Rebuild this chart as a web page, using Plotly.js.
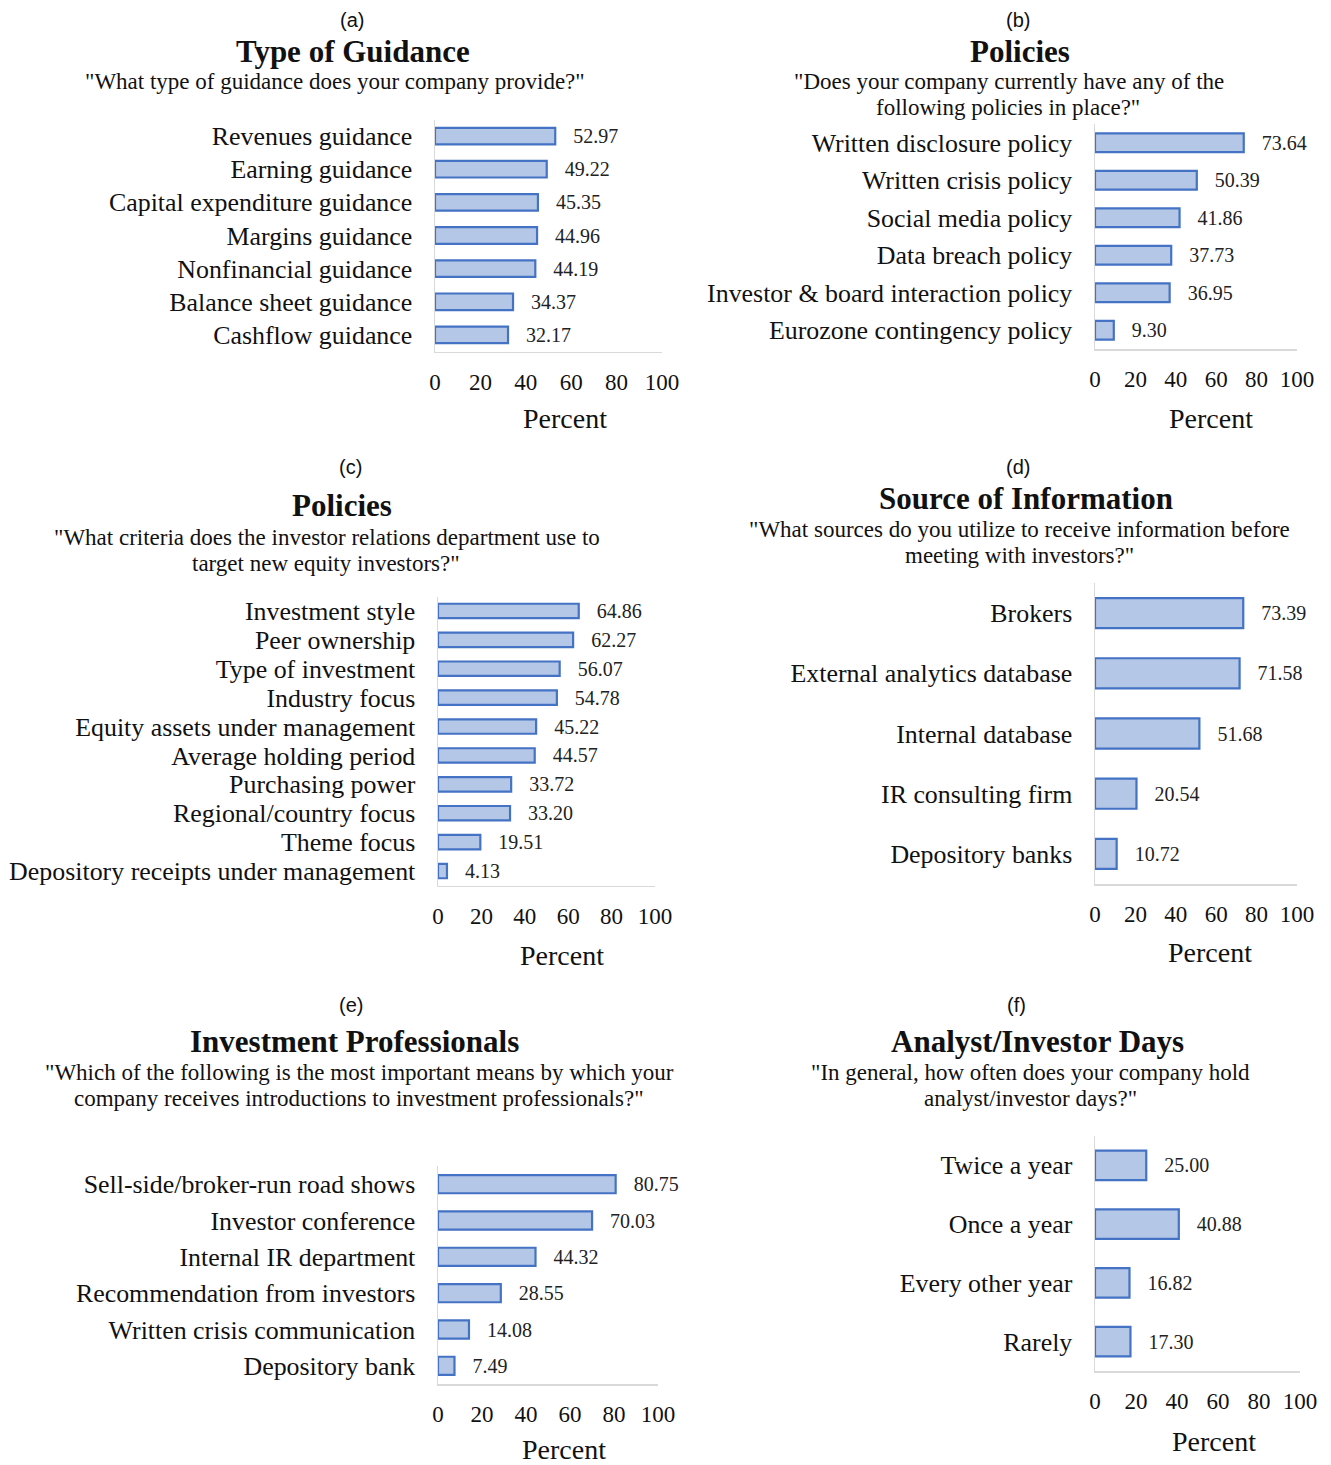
<!DOCTYPE html>
<html><head><meta charset="utf-8">
<script src="https://cdn.plot.ly/plotly-3.0.1.min.js"></script>
<style>html,body{margin:0;padding:0;background:#fff}#chart{width:1331px;height:1465px}</style>
</head><body><div id="chart"></div><script>
const W = 1331, H = 1465;

// ---- data ----
const guidanceLabels = ["Revenues guidance","Earning guidance","Capital expenditure guidance","Margins guidance","Nonfinancial guidance","Balance sheet guidance","Cashflow guidance"];
const guidanceValues = [52.97,49.22,45.35,44.96,44.19,34.37,32.17];

const policyLabels = ["Written disclosure policy","Written crisis policy","Social media policy","Data breach policy","Investor & board interaction policy","Eurozone contingency policy"];
const policyValues = [73.64,50.39,41.86,37.73,36.95,9.30];

const criteriaLabels = ["Investment style","Peer ownership","Type of investment","Industry focus","Equity assets under management","Average holding period","Purchasing power","Regional/country focus","Theme focus","Depository receipts under management"];
const criteriaValues = [64.86,62.27,56.07,54.78,45.22,44.57,33.72,33.20,19.51,4.13];

const sourceLabels = ["Brokers","External analytics database","Internal database","IR consulting firm","Depository banks"];
const sourceValues = [73.39,71.58,51.68,20.54,10.72];

const professionalLabels = ["Sell-side/broker-run road shows","Investor conference","Internal IR department","Recommendation from investors","Written crisis communication","Depository bank"];
const professionalValues = [80.75,70.03,44.32,28.55,14.08,7.49];

const daysLabels = ["Twice a year","Once a year","Every other year","Rarely"];
const daysValues = [25.00,40.88,16.82,17.30];

const xTickValues = [0,20,40,60,80,100];
const axisTitle = "Percent";

// ---- panel layout (pixels) ----
const panels = [
  {labels: guidanceLabels, values: guidanceValues, x0:435, x1:662, top:119.5, bottom:351.5,
   tag:"(a)", tagPos:[352,20], title:"Type of Guidance", titlePos:[353,51],
   sub:['"What type of guidance does your company provide?"'], subPos:[[335,81]], pct:[565,418]},
  {labels: policyLabels, values: policyValues, x0:1095, x1:1297, top:124, bottom:349,
   tag:"(b)", tagPos:[1018,20], title:"Policies", titlePos:[1020,51],
   sub:['"Does your company currently have any of the','following policies in place?"'], subPos:[[1009,82],[1008,108]], pct:[1211,418]},
  {labels: criteriaLabels, values: criteriaValues, x0:438, x1:655, top:596.5, bottom:885.5,
   tag:"(c)", tagPos:[350,467], title:"Policies", titlePos:[342,505],
   sub:['"What criteria does the investor relations department use to','target new equity investors?"'], subPos:[[327,537],[326,563]], pct:[562,955]},
  {labels: sourceLabels, values: sourceValues, x0:1095, x1:1297, top:583, bottom:884,
   tag:"(d)", tagPos:[1018,467], title:"Source of Information", titlePos:[1026,498],
   sub:['"What sources do you utilize to receive information before','meeting with investors?"'], subPos:[[1019,529],[1019,555]], pct:[1210,952]},
  {labels: professionalLabels, values: professionalValues, x0:438, x1:658, top:1166, bottom:1384,
   tag:"(e)", tagPos:[351,1005], title:"Investment Professionals", titlePos:[354,1041],
   sub:['"Which of the following is the most important means by which your','company receives introductions to investment professionals?"'], subPos:[[359,1072],[359,1098]], pct:[564,1449]},
  {labels: daysLabels, values: daysValues, x0:1095, x1:1300, top:1136, bottom:1371,
   tag:"(f)", tagPos:[1016,1005], title:"Analyst/Investor Days", titlePos:[1037,1041],
   sub:['"In general, how often does your company hold','analyst/investor days?"'], subPos:[[1030,1072],[1030,1098]], pct:[1214,1441]}
];

const serif = "Liberation Serif, Times New Roman, serif";
const sans = "Liberation Sans, Arial, sans-serif";
const txt = "#111";
const px = v => v / W;
const py = v => 1 - v / H;

const data = [];
const layout = {
  width: W, height: H,
  margin: {l:0, r:0, t:0, b:0},
  paper_bgcolor: "#fff", plot_bgcolor: "#fff",
  showlegend: false, bargap: 0.5,
  annotations: []
};

panels.forEach((p, i) => {
  const n = i === 0 ? "" : String(i + 1);
  data.push({
    type: "bar", orientation: "h",
    x: p.values, y: p.labels,
    xaxis: "x" + n, yaxis: "y" + n,
    marker: {color: "#b4c7e7", line: {color: "#4472c4", width: 2.2}},
    text: p.values.map(v => "\u00a0\u00a0\u00a0" + v.toFixed(2)),
    textposition: "outside", constraintext: "none", cliponaxis: false,
    textfont: {family: serif, size: 20, color: "#222"},
    hoverinfo: "skip"
  });
  layout["xaxis" + n] = {
    domain: [px(p.x0), px(p.x1)], anchor: "y" + n,
    range: [0, 100], tickvals: xTickValues, ticktext: xTickValues.map(String),
    showgrid: false, zeroline: false, showline: true, linecolor: "#d9d9d9", linewidth: 1.5,
    ticks: "outside", ticklen: 9, tickcolor: "rgba(0,0,0,0)",
    tickfont: {family: serif, size: 23, color: txt}, fixedrange: true
  };
  layout["yaxis" + n] = {
    domain: [py(p.bottom), py(p.top)], anchor: "x" + n,
    autorange: "reversed", type: "category",
    tickmode: "array", tickvals: p.labels, ticktext: p.labels,
    showgrid: false, zeroline: false, showline: true, linecolor: "#d9d9d9", linewidth: 1.5,
    ticks: "outside", ticklen: 16, tickcolor: "rgba(0,0,0,0)",
    tickfont: {family: serif, size: 25.9, color: txt}, fixedrange: true
  };
  const ann = (text, pos, font) => layout.annotations.push({
    text, x: px(pos[0]), y: py(pos[1]), xref: "paper", yref: "paper",
    xanchor: "center", yanchor: "middle", showarrow: false, font
  });
  ann(p.tag, p.tagPos, {family: sans, size: 20, color: txt});
  ann("<b>" + p.title + "</b>", p.titlePos, {family: serif, size: 31, color: txt});
  p.sub.forEach((s, k) => ann(s, p.subPos[k], {family: serif, size: 23, color: txt}));
  ann(axisTitle, p.pct, {family: serif, size: 28, color: txt});
});

Plotly.newPlot("chart", data, layout, {displayModeBar: false, staticPlot: true});
</script></body></html>
